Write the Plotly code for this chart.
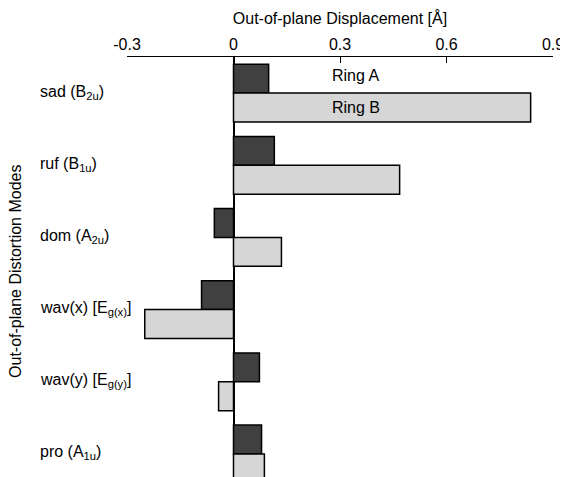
import plotly.graph_objects as go

modes = ["sad", "ruf", "dom", "wav(x)", "wav(y)", "pro"]
mode_labels = ["sad (B<sub>2u</sub>)", "ruf (B<sub>1u</sub>)", "dom (A<sub>2u</sub>)",
               "wav(x) [E<sub>g(x)</sub>]", "wav(y) [E<sub>g(y)</sub>]", "pro (A<sub>1u</sub>)"]
ring_a = [0.099, 0.115, -0.054, -0.090, 0.073, 0.079]
ring_b = [0.837, 0.468, 0.135, -0.250, -0.042, 0.087]
series_names = ["Ring A", "Ring B"]
x_ticks = [-0.3, 0, 0.3, 0.6, 0.9]
x_tick_labels = ["-0.3", "0", "0.3", "0.6", "0.9"]

FONT = "Liberation Sans, Arial, sans-serif"

fig = go.Figure()
fig.add_trace(go.Bar(y=modes, x=ring_a, orientation="h", name=series_names[0],
                     marker=dict(color="#404040", line=dict(color="black", width=1.5))))
fig.add_trace(go.Bar(y=modes, x=ring_b, orientation="h", name=series_names[1],
                     marker=dict(color="#d6d6d6", line=dict(color="black", width=1.5))))

fig.update_layout(
    width=568, height=477,
    margin=dict(l=119, r=23, t=49, b=0),
    paper_bgcolor="white", plot_bgcolor="white",
    barmode="group", bargap=0.2, bargroupgap=0,
    showlegend=False,
    font=dict(family=FONT, size=16, color="black"),
    xaxis=dict(side="top", range=[-0.3, 0.9], tickvals=x_ticks, ticktext=x_tick_labels,
               showline=True, linecolor="black", linewidth=1.2, mirror=False,
               ticks="inside", ticklen=6, tickcolor="black", tickwidth=1.2,
               showgrid=False, zeroline=True, zerolinecolor="black", zerolinewidth=1.5,
               title=dict(text="Out-of-plane Displacement [Å]", standoff=6,
                          font=dict(size=16))),
    yaxis=dict(categoryorder="array", categoryarray=modes, range=[5.43, -0.5],
               showticklabels=False, showgrid=False, showline=False, ticks=""),
)

for m, lab in zip(modes, mode_labels):
    fig.add_annotation(x=-0.209, xref="paper", y=m, yref="y", yshift=1,
                       text=lab, showarrow=False, xanchor="left", yanchor="middle",
                       font=dict(size=16))

fig.add_annotation(x=-0.263, xref="paper", y=0.5, yref="paper", text="Out-of-plane Distortion Modes",
                   textangle=-90, showarrow=False, xanchor="center", yanchor="middle",
                   font=dict(size=16))

fig.add_annotation(x=0.344, y=modes[0], yref="y", yshift=18, text=series_names[0],
                   showarrow=False, font=dict(size=16))
fig.add_annotation(x=0.344, y=modes[0], yref="y", yshift=-14, text=series_names[1],
                   showarrow=False, font=dict(size=16))

fig.write_html("out.html")
